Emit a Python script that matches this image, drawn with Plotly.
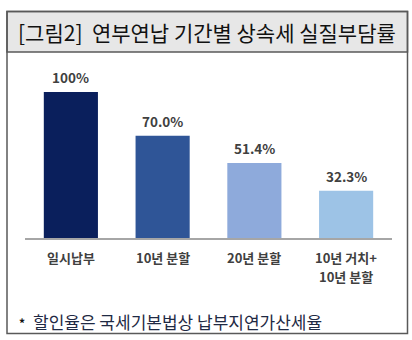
import plotly.graph_objects as go

categories = ["일시납부", "10년 분할", "20년 분할", "10년 거치+<br>10년 분할"]
values = [100, 70.0, 51.4, 32.3]
value_labels = ["100%", "70.0%", "51.4%", "32.3%"]
bar_colors = ["#0a1f5c", "#2f5597", "#8eaadb", "#9dc3e6"]
title_text = "[그림2]  연부연납 기간별 상속세 실질부담률"
footnote_text = "할인율은 국세기본법상 납부지연가산세율"

W, H = 412, 340
def px(x):
    return x / W
def py(y):
    return 1 - y / H

KFONT = "Noto Sans CJK KR"
BASE_Y = 238

fig = go.Figure()
fig.add_trace(go.Bar(
    x=categories, y=values,
    marker=dict(color=bar_colors, line=dict(width=0)),
    width=0.59,
    hoverinfo="skip",
))

for c, v, t in zip(categories, values, value_labels):
    fig.add_annotation(x=c, y=v, xref="x", yref="y", text="<b>%s</b>" % t,
                       showarrow=False, yanchor="bottom", yshift=3,
                       font=dict(family=KFONT, size=13.5, color="#404040"))

# category labels, one text per line
for c in categories:
    for i, line in enumerate(c.split("<br>")):
        fig.add_annotation(x=c, y=0, xref="x", yref="y", text="<b>%s</b>" % line,
                           showarrow=False, yanchor="middle",
                           yshift=-(19 + 19 * i),
                           font=dict(family=KFONT, size=13, color="#404040"))

# frame
fig.add_shape(type="rect", xref="paper", yref="paper",
              x0=px(7), x1=px(407.5), y0=py(333.5), y1=py(11.5),
              line=dict(color="#595959", width=1.5), fillcolor="rgba(0,0,0,0)", layer="above")
fig.add_shape(type="rect", xref="paper", yref="paper",
              x0=px(7), x1=px(407.5), y0=py(52), y1=py(11.5),
              line=dict(color="#595959", width=1.5), fillcolor="#e7e7e7", layer="below")

fig.add_annotation(xref="paper", yref="paper", x=px(207), y=py(32), text=title_text,
                   showarrow=False, xanchor="center", yanchor="middle",
                   font=dict(family=KFONT, size=21, color="#111111"))
fig.add_annotation(xref="paper", yref="paper", x=px(17), y=py(322), text="<b>*</b>",
                   showarrow=False, xanchor="left", yanchor="middle",
                   font=dict(family=KFONT, size=12, color="#111111"))
fig.add_annotation(xref="paper", yref="paper", x=px(31), y=py(321), text=footnote_text,
                   showarrow=False, xanchor="left", yanchor="middle",
                   font=dict(family=KFONT, size=17, color="#1f2a44"))

fig.update_layout(
    width=W, height=H,
    margin=dict(l=0, r=0, t=0, b=0),
    paper_bgcolor="white", plot_bgcolor="white",
    showlegend=False,
    xaxis=dict(domain=[px(25), px(392)], showgrid=False, showline=True,
               linecolor="#a6a6a6", linewidth=1.5, ticks="", zeroline=False,
               showticklabels=False, fixedrange=True),
    yaxis=dict(domain=[py(BASE_Y), py(60)], range=[0, 178 / 146 * 100],
               visible=False, showgrid=False, zeroline=False, fixedrange=True),
)

fig.write_html("out.html")
